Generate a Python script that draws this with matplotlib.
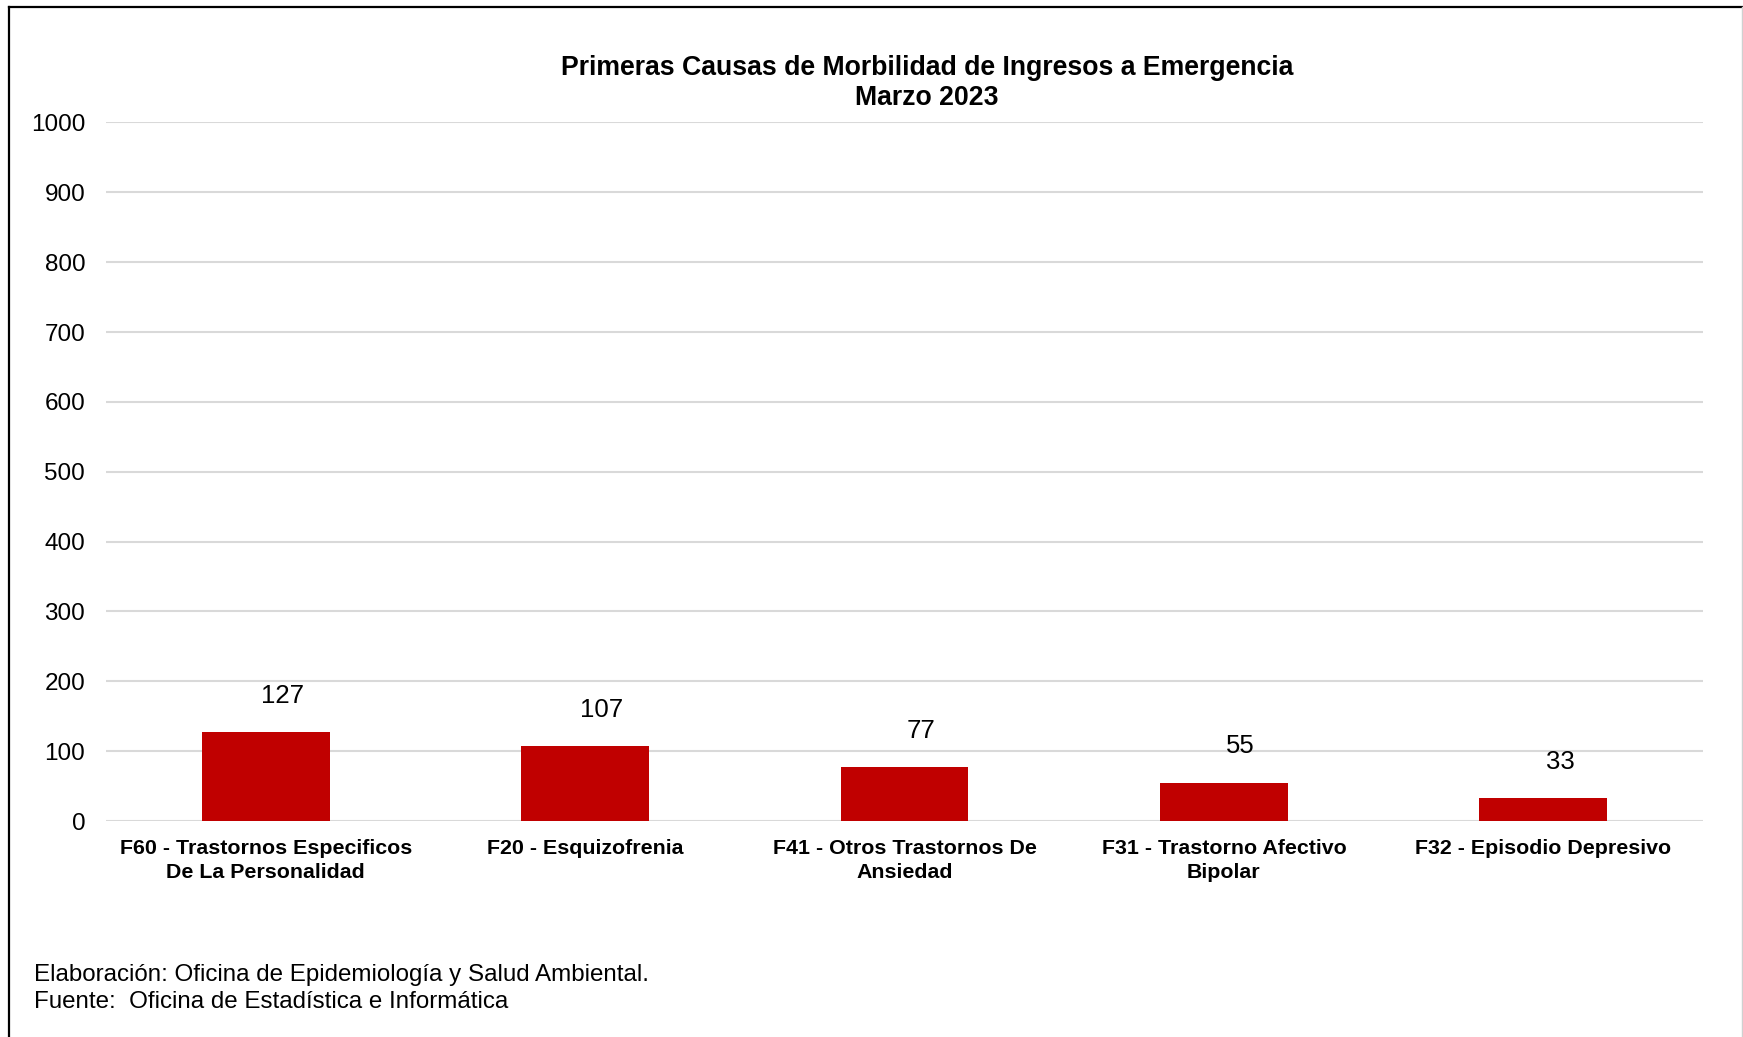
import matplotlib
matplotlib.use("Agg")
import matplotlib.pyplot as plt
from matplotlib.lines import Line2D

plt.rcParams['font.family'] = ['Liberation Sans', 'DejaVu Sans']

# datos
categorias = [
    "F60 - Trastornos Especificos\nDe La Personalidad",
    "F20 - Esquizofrenia",
    "F41 - Otros Trastornos De\nAnsiedad",
    "F31 - Trastorno Afectivo\nBipolar",
    "F32 - Episodio Depresivo",
]
valores = [127, 107, 77, 55, 33]
yticks = list(range(0, 1001, 100))

titulo = "Primeras Causas de Morbilidad de Ingresos a Emergencia"
subtitulo = "Marzo 2023"
pie1 = "Elaboración: Oficina de Epidemiología y Salud Ambiental."
pie2 = "Fuente:  Oficina de Estadística e Informática"

W, H = 1743, 1037
fig = plt.figure(figsize=(W / 100, H / 100), dpi=100)
fig.patch.set_facecolor('white')

ax = fig.add_axes([106 / W, 1 - 821 / H, (1703 - 106) / W, (821 - 122.5) / H])
x = list(range(len(valores)))
ax.bar(x, valores, width=0.40, color='#C00000', zorder=3)
ax.set_xlim(-0.5, len(valores) - 0.5)
ax.set_ylim(0, 1000)
ax.set_yticks(yticks)
ax.set_yticklabels([str(t) for t in yticks], fontsize=17.5)
ax.set_xticks(x)
ax.set_xticklabels(categorias, fontsize=15.4, fontweight='bold', linespacing=1.3)
ax.tick_params(axis='both', length=0)
ax.tick_params(axis='y', pad=15)
ax.tick_params(axis='x', pad=13)
for s in ax.spines.values():
    s.set_visible(False)
ax.grid(axis='y', color='#d9d9d9', linewidth=1.5, zorder=0)
ax.set_axisbelow(True)

for xi, v in zip(x, valores):
    ax.annotate(str(v), (xi, v), xytext=(12, 26), textcoords='offset points',
                ha='center', va='center', fontsize=18.5)

fig.text(927 / W, 1 - 68 / H, titulo, ha='center', va='center',
         fontsize=19.2, fontweight='bold')
fig.text(927 / W, 1 - 98 / H, subtitulo, ha='center', va='center',
         fontsize=19.2, fontweight='bold')

fig.text(34 / W, 1 - 975 / H, pie1, ha='left', va='center', fontsize=17.4)
fig.text(34 / W, 1 - 1002 / H, pie2, ha='left', va='center', fontsize=17.4)

# marco
fig.add_artist(Line2D([9 / W, 9 / W], [0, 1 - 7 / H], color='black', linewidth=1.6,
                      transform=fig.transFigure))
fig.add_artist(Line2D([9 / W, 1], [1 - 7 / H, 1 - 7 / H], color='black', linewidth=1.6,
                      transform=fig.transFigure))
fig.add_artist(Line2D([1742 / W, 1742 / W], [0, 1 - 7 / H], color='#d0d0d0', linewidth=1,
                      transform=fig.transFigure))

fig.savefig("out.png", dpi=100)
